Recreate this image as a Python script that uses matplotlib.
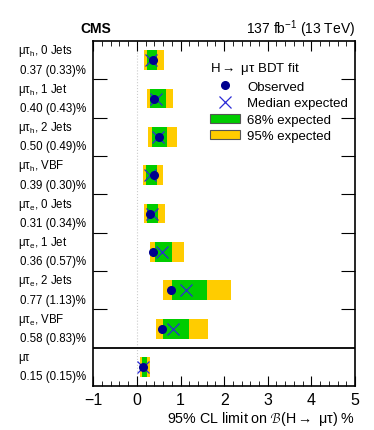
import numpy as np
import matplotlib.pyplot as plt
from matplotlib.patches import Patch
from matplotlib.lines import Line2D
import matplotlib.transforms as mtransforms

plt.rcParams['font.family'] = ['Liberation Sans', 'DejaVu Sans']
plt.rcParams['mathtext.fontset'] = 'custom'
plt.rcParams['mathtext.rm'] = 'Liberation Sans'
plt.rcParams['mathtext.it'] = 'Liberation Sans:italic'

# Channel labels (top to bottom)
channels = ['μτ$_{\\rm h}$, 0 Jets', 'μτ$_{\\rm h}$, 1 Jet', 'μτ$_{\\rm h}$, 2 Jets',
            'μτ$_{\\rm h}$, VBF', 'μτ$_{\\rm e}$, 0 Jets', 'μτ$_{\\rm e}$, 1 Jet',
            'μτ$_{\\rm e}$, 2 Jets', 'μτ$_{\\rm e}$, VBF', 'μτ']

# Limits in %
observed = [0.37, 0.40, 0.50, 0.39, 0.31, 0.36, 0.77, 0.58, 0.15]
expected = [0.33, 0.43, 0.49, 0.30, 0.34, 0.57, 1.13, 0.83, 0.15]
lo68 = [0.24, 0.30, 0.35, 0.21, 0.23, 0.41, 0.81, 0.60, 0.11]
hi68 = [0.47, 0.66, 0.69, 0.45, 0.48, 0.80, 1.60, 1.19, 0.22]
lo95 = [0.17, 0.23, 0.26, 0.15, 0.17, 0.30, 0.60, 0.44, 0.08]
hi95 = [0.63, 0.82, 0.93, 0.60, 0.65, 1.08, 2.16, 1.62, 0.30]

green = '#00cc00'
yellow = '#ffcc00'
navy = '#00008f'

fig = plt.figure(figsize=(3.74, 4.31), dpi=100)
ax = fig.add_axes([0.2495, 0.102, 0.6997, 0.8005])

n = len(channels)
y = np.arange(n) + 0.5
lo95 = np.array(lo95); hi95 = np.array(hi95)
lo68 = np.array(lo68); hi68 = np.array(hi68)

ax.axvline(0, color='#cccccc', lw=0.8, ls=':', zorder=0)
ax.barh(y, hi95 - lo95, left=lo95, height=0.52, color=yellow, edgecolor='none', zorder=1)
ax.barh(y, hi68 - lo68, left=lo68, height=0.52, color=green, edgecolor='none', zorder=2)
ax.plot(expected, y, ls='none', marker='x', ms=9, mew=0.9, color='#2b2bd6', zorder=3)
ax.plot(observed, y, ls='none', marker='o', ms=5.5, color=navy, zorder=4)

ax.axhline(8, color='black', lw=1.3)

ax.set_xlim(-1, 5)
ax.set_ylim(n, 0)
ax.set_xticks(np.arange(-1, 6))
ax.set_xticks(np.arange(-1, 5.01, 0.2), minor=True)
ax.set_yticks(np.arange(1, 8))
ax.set_yticklabels([])
ax.tick_params(axis='x', which='major', direction='in', length=7, top=True, labelsize=11.5, pad=4)
ax.tick_params(axis='x', which='minor', direction='in', length=3.5, top=True)
ax.tick_params(axis='y', which='major', direction='in', length=10, right=True)
for s in ax.spines.values():
    s.set_linewidth(1.2)
ax.set_xticklabels(['\u22121', '0', '1', '2', '3', '4', '5'])

# channel labels
trans = mtransforms.blended_transform_factory(fig.transFigure, ax.transData)
for i in range(n):
    ax.text(18 / 374, y[i] - 0.26, channels[i], transform=trans, fontsize=8.3, ha='left', va='center')
    ax.text(20 / 374, y[i] + 0.25, f'{observed[i]:.2f} ({expected[i]:.2f})%', transform=trans,
            fontsize=8.3, ha='left', va='center')

ax.set_xlabel(r'95% CL limit on $\mathcal{B}$(H$\rightarrow$ μτ) %', fontsize=10.3, loc='right', labelpad=2)
fig.text(80 / 374, 1 - 29 / 431, 'CMS', fontsize=10, fontweight='bold', ha='left', va='center')
fig.text(355 / 374, 1 - 29 / 431, r'137 fb$^{-1}$ (13 TeV)', fontsize=10, ha='right', va='center')

handles = [Line2D([], [], ls='none', marker='o', ms=5.5, color=navy),
           Line2D([], [], ls='none', marker='x', ms=9, mew=0.9, color='#2b2bd6'),
           Patch(facecolor=green, edgecolor='#555555', lw=0.8),
           Patch(facecolor=yellow, edgecolor='#555555', lw=0.8)]
labels = ['Observed', 'Median expected', '68% expected', '95% expected']
leg = ax.legend(handles, labels, title=r'H$\rightarrow$ μτ BDT fit', loc='upper left',
                bbox_to_anchor=(0.446, 0.945), frameon=False, fontsize=9.5, title_fontsize=9.5,
                handlelength=2.3, handletextpad=0.5, labelspacing=0.33, borderpad=0, borderaxespad=0)
leg._legend_box.align = 'left'

fig.savefig('out.png', dpi=100)
